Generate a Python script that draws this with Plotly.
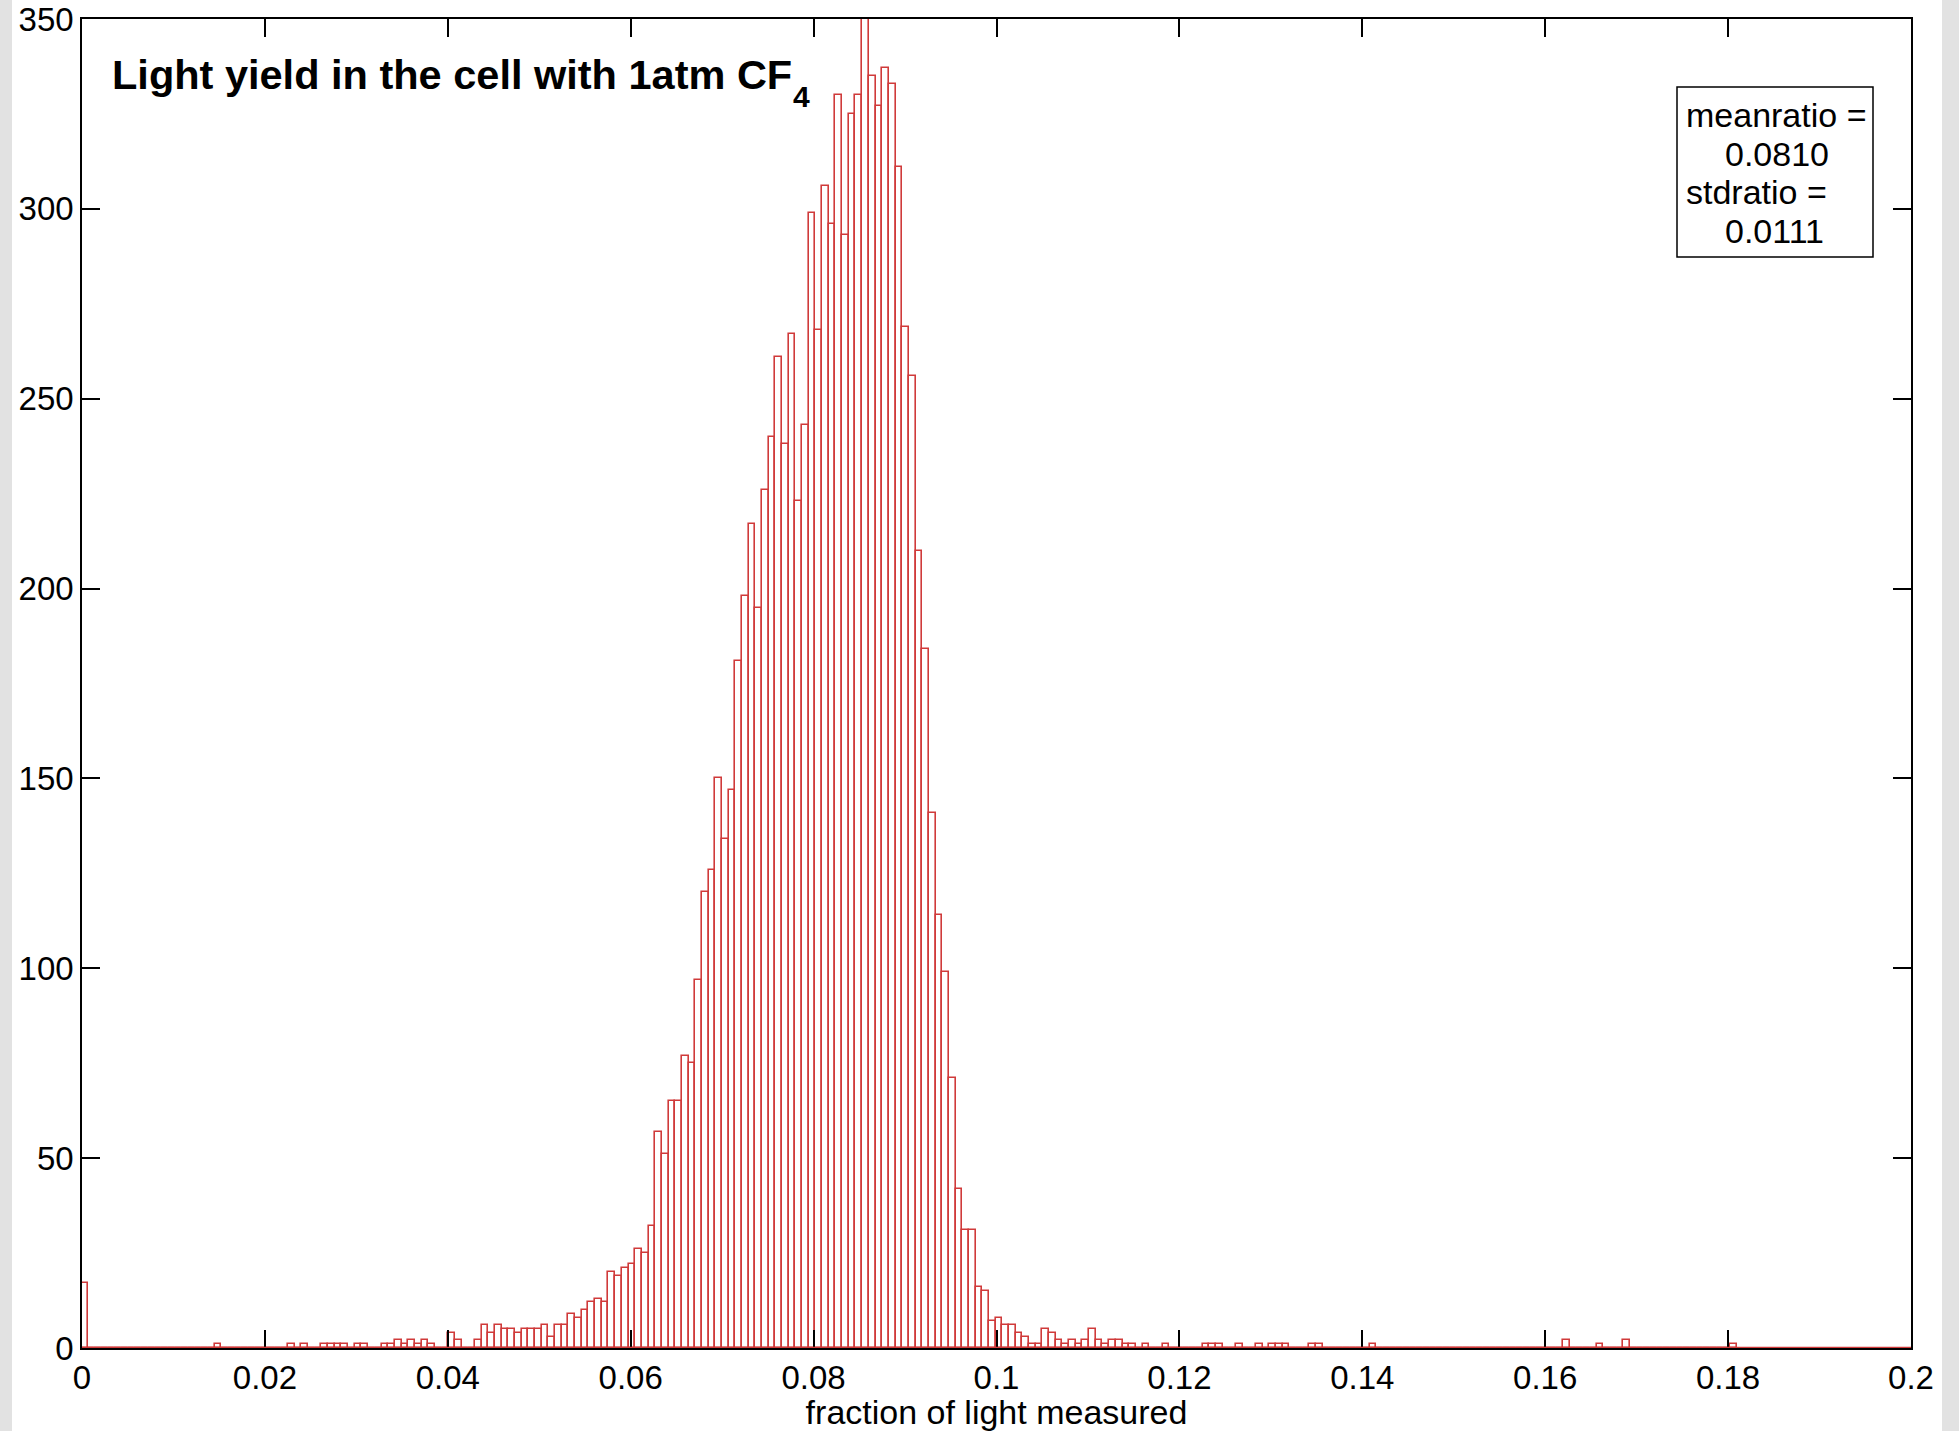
import numpy as np
import plotly.graph_objects as go

# ---------------- data ----------------
bin_start = -0.0001
bin_width = 0.00073
counts = [
    17, 0, 0, 0, 0, 0, 0, 0, 0, 0,          # 0-9
    0, 0, 0, 0, 0, 0, 0, 0, 0, 0,           # 10-19
    1, 0, 0, 0, 0, 0, 0, 0, 0, 0,           # 20-29
    0, 1, 0, 1, 0, 0, 1, 1, 1, 1,           # 30-39
    0, 1, 1, 0, 0, 1, 1, 2, 1, 2,           # 40-49
    1, 2, 1, 0, 0, 4, 2, 0, 0, 2,           # 50-59
    6, 4, 6, 5, 5, 4, 5, 5, 5, 6,           # 60-69
    3, 6, 6, 9, 8, 10, 12, 13, 12, 20,      # 70-79
    19, 21, 22, 26, 25, 32, 57, 51, 65, 65, # 80-89
    77, 75, 97, 120, 126, 150, 134, 147, 181, 198,   # 90-99
    217, 195, 226, 240, 261, 238, 267, 223, 243, 299, # 100-109
    268, 306, 296, 330, 293, 325, 330, 356, 335, 327, # 110-119
    337, 333, 311, 269, 256, 210, 184, 141, 114, 99,  # 120-129
    71, 42, 31, 31, 16, 15, 7, 8, 6, 6,     # 130-139
    4, 3, 1, 1, 5, 4, 2, 1, 2, 1,           # 140-149
    2, 5, 2, 1, 2, 2, 1, 1, 0, 1,           # 150-159
    0, 0, 1, 0, 0, 0, 0, 0, 1, 1,           # 160-169
    1, 0, 0, 1, 0, 0, 1, 0, 1, 1,           # 170-179
    1, 0, 0, 0, 1, 1, 0, 0, 0, 0,           # 180-189
    0, 0, 0, 1, 0, 0, 0, 0, 0, 0,           # 190-199
    0, 0, 0, 0, 0, 0, 0, 0, 0, 0,           # 200-209
    0, 0, 0, 0, 0, 0, 0, 0, 0, 0,           # 210-219
    0, 0, 2, 0, 0, 0, 0, 1, 0, 0,           # 220-229
    0, 2, 0, 0, 0, 0, 0, 0, 0, 0,           # 230-239
    0, 0, 0, 0, 0, 0, 0, 1,                 # 240-247
]
x_tick_vals = [0, 0.02, 0.04, 0.06, 0.08, 0.1, 0.12, 0.14, 0.16, 0.18, 0.2]
x_tick_text = ["0", "0.02", "0.04", "0.06", "0.08", "0.1", "0.12", "0.14", "0.16", "0.18", "0.2"]
y_tick_vals = [0, 50, 100, 150, 200, 250, 300, 350]
y_tick_text = ["0", "50", "100", "150", "200", "250", "300", "350"]
title_main = "Light yield in the cell with 1atm CF"
title_sub = "4"
x_title = "fraction of light measured"
stats_lines = ["meanratio =", "0.0810", "stdratio =", "0.0111"]

centers = bin_start + (np.arange(len(counts)) + 0.5) * bin_width

FONT = "Liberation Sans, Arial, Helvetica, sans-serif"
RED = "#d03a3a"

fig = go.Figure()
fig.add_trace(go.Bar(
    x=centers, y=counts, width=bin_width,
    marker=dict(color="white", line=dict(color=RED, width=1.6)),
    showlegend=False, hoverinfo="x+y",
))

W, H = 1959, 1431
L, R, T, B = 82, 48, 19, 83
pw, ph = W - L - R, H - T - B

def px2paper_x(px):
    return (px - L) / pw

def px2paper_y(py):
    return 1 - (py - T) / ph

axis_common = dict(
    showline=True, linecolor="black", linewidth=1.5, mirror="ticks",
    ticks="inside", ticklen=18, tickwidth=1.5, tickcolor="black",
    showgrid=False, zeroline=False, automargin=False,
    tickfont=dict(family=FONT, size=33, color="black"),
)

# stats box layout (pixel positions)
box_x0, box_x1, box_y0, box_y1 = 1677, 1873, 87, 257
line_y = [115, 154, 192, 231]
line_x = [1684, 1723, 1684, 1723]

annotations = [
    dict(text="<b>" + title_main + "</b>", xref="paper", yref="paper",
         x=px2paper_x(110), y=px2paper_y(74), xanchor="left", yanchor="middle",
         showarrow=False, font=dict(family=FONT, size=41.5, color="black")),
    dict(text="<b>" + title_sub + "</b>", xref="paper", yref="paper",
         x=px2paper_x(801), y=px2paper_y(96), xanchor="center", yanchor="middle",
         showarrow=False, font=dict(family=FONT, size=30, color="black")),
]
for txt, lx, ly in zip(stats_lines, line_x, line_y):
    annotations.append(dict(
        text=txt, xref="paper", yref="paper",
        x=px2paper_x(lx), y=px2paper_y(ly), xanchor="left", yanchor="middle",
        showarrow=False, font=dict(family=FONT, size=34, color="black")))

fig.update_layout(
    width=W, height=H,
    margin=dict(l=L, r=R, t=T, b=B, pad=0, autoexpand=False),
    paper_bgcolor="white", plot_bgcolor="white",
    bargap=0,
    font=dict(family=FONT, color="black"),
    xaxis=dict(range=[0, 0.2], tickmode="array", tickvals=x_tick_vals, ticktext=x_tick_text,
               title=dict(text=x_title, font=dict(family=FONT, size=34, color="black"), standoff=0),
               **axis_common),
    yaxis=dict(range=[0, 350], tickmode="array", tickvals=y_tick_vals, ticktext=y_tick_text,
               **axis_common),
    shapes=[
        dict(type="rect", xref="paper", yref="paper",
             x0=px2paper_x(0), x1=px2paper_x(12), y0=px2paper_y(H), y1=px2paper_y(0),
             fillcolor="#e2e2e2", line=dict(width=0), layer="below"),
        dict(type="rect", xref="paper", yref="paper",
             x0=px2paper_x(1942), x1=px2paper_x(W), y0=px2paper_y(H), y1=px2paper_y(0),
             fillcolor="#e2e2e2", line=dict(width=0), layer="below"),
        dict(type="line", xref="paper", yref="y", x0=0, x1=1, y0=0, y1=0,
             line=dict(color=RED, width=2.5), layer="above"),
        dict(type="rect", xref="paper", yref="paper",
             x0=px2paper_x(box_x0), x1=px2paper_x(box_x1),
             y0=px2paper_y(box_y1), y1=px2paper_y(box_y0),
             fillcolor="white", line=dict(color="black", width=1.5), layer="above"),
    ],
    annotations=annotations,
)

fig.write_html("out.html")
